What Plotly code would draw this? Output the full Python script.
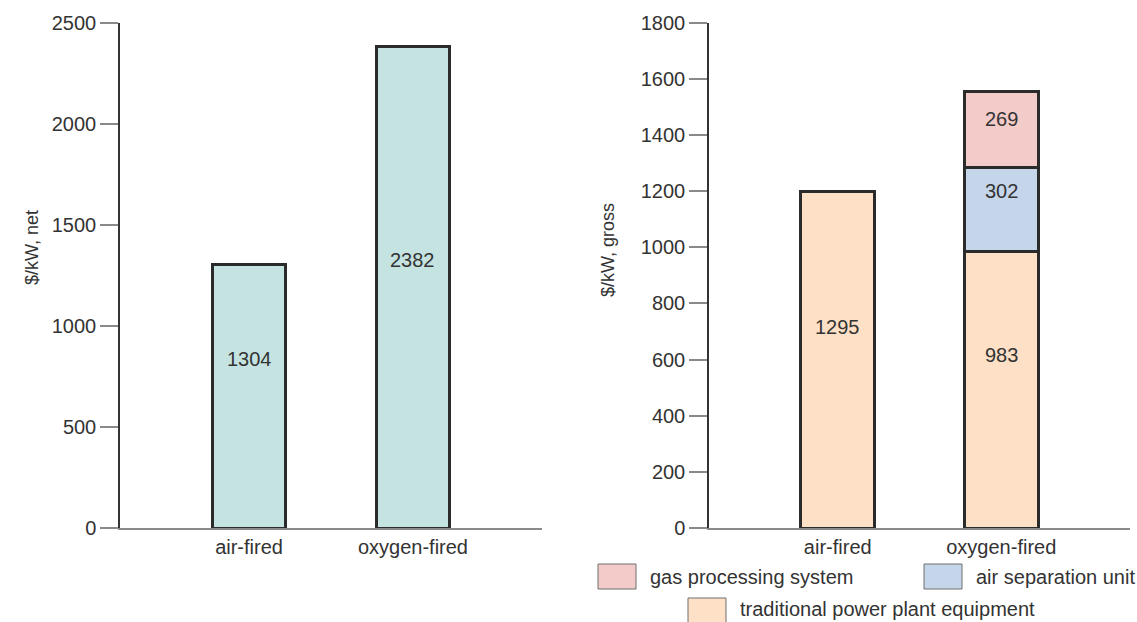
import plotly.graph_objects as go

# ---------------- data ----------------
categories = ["air-fired", "oxygen-fired"]

# left panel: $/kW, net
net_cost = [1304, 2382]

# right panel: $/kW, gross (stacked)
traditional_drawn = [1200, 983]     # bar heights as drawn in the picture
traditional_label = [1295, 983]     # numbers printed on the bars
air_separation = [0, 302]
gas_processing = [0, 269]

left_ticks = [0, 500, 1000, 1500, 2000, 2500]
right_ticks = [0, 200, 400, 600, 800, 1000, 1200, 1400, 1600, 1800]

# label positions (in axis units)
net_label_y = [835, 1324]
trad_label_y = [716, 615]
asu_label_y = 1199
gps_label_y = 1456

# ---------------- style ----------------
W, H = 1137, 622
FONT = "Liberation Sans, Arial, Helvetica, sans-serif"
TXT = "#333333"
C_TEAL = "#c4e3e1"
C_PEACH = "#fde0c5"
C_PINK = "#f3cbc9"
C_BLUE = "#c5d5ea"
EDGE = "#2b2b2b"
BW = 0.45


def px(x):
    return x / W


def py(y):
    return 1 - y / H


fig = go.Figure()

line = dict(color=EDGE, width=3)

fig.add_trace(go.Bar(x=categories, y=net_cost, width=BW, marker=dict(color=C_TEAL, line=line),
                     xaxis="x", yaxis="y", showlegend=False, hoverinfo="skip"))

fig.add_trace(go.Bar(x=categories, y=traditional_drawn, width=BW, marker=dict(color=C_PEACH, line=line),
                     xaxis="x2", yaxis="y2", showlegend=False, hoverinfo="skip",
                     name="traditional power plant equipment"))
fig.add_trace(go.Bar(x=categories[1:], y=air_separation[1:], width=BW, marker=dict(color=C_BLUE, line=line),
                     xaxis="x2", yaxis="y2", showlegend=False, hoverinfo="skip",
                     name="air separation unit"))
fig.add_trace(go.Bar(x=categories[1:], y=gas_processing[1:], width=BW, marker=dict(color=C_PINK, line=line),
                     xaxis="x2", yaxis="y2", showlegend=False, hoverinfo="skip",
                     name="gas processing system"))

annotations = []
for c, v, yy in zip(categories, net_cost, net_label_y):
    annotations.append(dict(x=c, y=yy, xref="x", yref="y", text=str(v), showarrow=False,
                            font=dict(size=20, color=TXT, family=FONT)))
for c, v, yy in zip(categories, traditional_label, trad_label_y):
    annotations.append(dict(x=c, y=yy, xref="x2", yref="y2", text=str(v), showarrow=False,
                            font=dict(size=20, color=TXT, family=FONT)))
annotations.append(dict(x=categories[1], y=asu_label_y, xref="x2", yref="y2", text=str(air_separation[1]),
                        showarrow=False, font=dict(size=20, color=TXT, family=FONT)))
annotations.append(dict(x=categories[1], y=gps_label_y, xref="x2", yref="y2", text=str(gas_processing[1]),
                        showarrow=False, font=dict(size=20, color=TXT, family=FONT)))

# axis titles
annotations.append(dict(x=px(20), y=py(248), xref="paper", yref="paper", text="$/kW, net", textangle=-90,
                        showarrow=False, font=dict(size=18, color=TXT, family=FONT)))
annotations.append(dict(x=px(608), y=py(250), xref="paper", yref="paper", text="$/kW, gross", textangle=-90,
                        showarrow=False, font=dict(size=18, color=TXT, family=FONT)))

# custom legend (swatch left x, swatch top y, text centre y) in pixels
legend_items = [
    ("gas processing system", C_PINK, 598, 564, 577),
    ("air separation unit", C_BLUE, 924, 564, 577),
    ("traditional power plant equipment", C_PEACH, 688, 598, 609),
]
shapes = []
for name, col, x0, y0, ty in legend_items:
    shapes.append(dict(type="rect", xref="paper", yref="paper", x0=px(x0), x1=px(x0 + 38),
                       y0=py(y0), y1=py(y0 + 25), fillcolor=col, line=dict(color="#6f6f6f", width=1)))
    annotations.append(dict(x=px(x0 + 50), y=py(ty), xref="paper", yref="paper", text=name,
                            xanchor="left", yanchor="middle", showarrow=False,
                            font=dict(size=20, color=TXT, family=FONT)))

ydom = [py(528), py(22.5)]
xr = [-0.787, 1.787]

common_x = dict(showgrid=False, zeroline=False, showline=True, linecolor="#8a8a8a", linewidth=2,
                ticks="", tickfont=dict(size=20, color=TXT, family=FONT), range=xr, fixedrange=True,
                automargin=False)
common_y = dict(showgrid=False, zeroline=False, showline=True, linecolor="#333333", linewidth=1.5,
                ticks="outside", ticklen=18, tickwidth=1.5, tickcolor="#8a8a8a",
                tickfont=dict(size=20, color=TXT, family=FONT), fixedrange=True, automargin=False)

fig.update_layout(
    width=W, height=H, margin=dict(l=0, r=0, t=0, b=0),
    paper_bgcolor="white", plot_bgcolor="white",
    barmode="stack", showlegend=False, hovermode=False,
    xaxis=dict(domain=[px(120), px(542)], anchor="y", **common_x),
    yaxis=dict(domain=ydom, anchor="x", range=[0, 2500], tickvals=left_ticks, **common_y),
    xaxis2=dict(domain=[px(709), px(1130)], anchor="y2", **common_x),
    yaxis2=dict(domain=ydom, anchor="x2", range=[0, 1800], tickvals=right_ticks, **common_y),
    annotations=annotations, shapes=shapes,
    font=dict(family=FONT, color=TXT),
)

fig.write_html("out.html")
